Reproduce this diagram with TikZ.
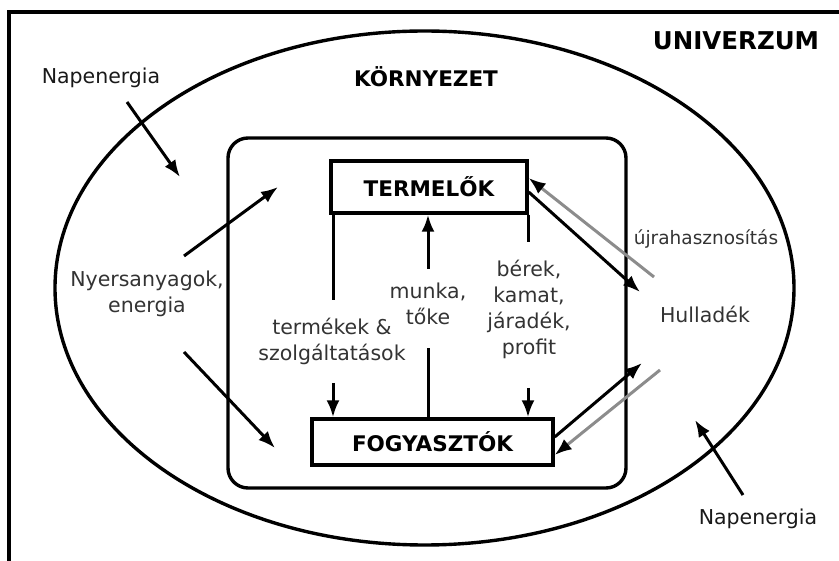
\documentclass[tikz,border=0pt]{standalone}
\usepackage{fontspec}
\setmainfont{DejaVu Sans}
\usetikzlibrary{arrows.meta}
\begin{document}
\begin{tikzpicture}[x=1pt,y=-1pt,
  lbl/.style={text=black!80, font=\fontsize{20.5}{26}\selectfont, align=center, inner sep=0pt},
  ttl/.style={font=\fontsize{21.5}{25}\selectfont\bfseries, inner sep=0pt},
  box/.style={draw, line width=3.4pt, font=\fontsize{21.5}{25}\selectfont\bfseries, inner sep=0pt},
  arr/.style={line width=3pt, -{Latex[length=17pt,width=13pt]}},
  garr/.style={line width=3pt, draw=black!45, -{Latex[length=17pt,width=13pt,color=black]}},
  ln/.style={line width=3pt}]
\useasboundingbox (0,0) rectangle (839,561);
% frame
\draw[line width=4.5pt] (9,561) -- (9,12) -- (839,12);
% environment ellipse
\draw[line width=3.4pt] (424.5,288) ellipse [x radius=369.5, y radius=257];
% economy rounded rectangle
\draw[line width=3.4pt, rounded corners=20pt] (228,138) rectangle (626,488);

% titles
\node[ttl, font=\fontsize{24.5}{28}\selectfont\bfseries, anchor=base] (univ) at (736,50) {UNIVERZUM};
\node[ttl, anchor=base] (korny) at (426,87) {KÖRNYEZET};

% boxes
\node[box, minimum width=196pt, minimum height=52pt] (T) at (429,187) {TERMELŐK};
\node[box, minimum width=241pt, minimum height=46pt] (F) at (432.5,442) {FOGYASZTÓK};

% labels
\node[lbl, text=black!90, anchor=base] (nap1) at (101,84) {Napenergia};
\node[lbl, text=black!90, anchor=base] (nap2) at (758,525) {Napenergia};
\node[lbl] (nyers) at (147,294) {Nyersanyagok,\\energia};
\node[lbl] (termek) at (332,341) {termékek \&\\szolgáltatások};
\node[lbl] (munka) at (428,304) {munka,\\tőke};
\node[lbl] (berek) at (529,309) {bérek,\\kamat,\\járadék,\\profit};
\node[lbl, font=\fontsize{18.5}{24}\selectfont, anchor=base] (ujra) at (706,245) {újrahasznosítás};
\node[lbl, anchor=base] (hull) at (705,323) {Hulladék};

% free ends
\coordinate (n1s) at (127,102);
\coordinate (n1e) at (180,177);
\coordinate (n2s) at (743,495);
\coordinate (n2e) at (695,420);
\coordinate (ny1s) at (184,256);
\coordinate (ny1e) at (278,187);
\coordinate (ny2s) at (184,352);
\coordinate (ny2e) at (275,448);
\coordinate (l1) at (333,300);
\coordinate (l2) at (333,383);
\coordinate (m1) at (428,348);
\coordinate (m2) at (428,269);
\coordinate (r1) at (528,242);
\coordinate (r2) at (528,388);
\coordinate (h1) at (640,292);
\coordinate (h2) at (654,277);
\coordinate (h3) at (642,363);
\coordinate (h4) at (660,370);

% sun energy
\draw[arr] (n1s) -- (n1e);
\draw[arr] (n2s) -- (n2e);
% raw materials
\draw[arr] (ny1s) -- (ny1e);
\draw[arr] (ny2s) -- (ny2e);
% internal flows
\draw[ln] (l1 |- T.south) -- (l1);
\draw[arr] (l2) -- (l2 |- F.north);
\draw[ln] (m1 |- F.north) -- (m1);
\draw[arr] (m2) -- (m2 |- T.south);
\draw[ln] (r1 |- T.south) -- (r1);
\draw[arr] (r2) -- (r2 |- F.north);
% waste and recycling
\draw[arr] ([yshift=-5pt]T.east) -- (h1);
\draw[garr] (h2) -- ([yshift=9pt]T.east);
\draw[arr] ([yshift=5pt]F.east) -- (h3);
\draw[garr] (h4) -- ([yshift=-13pt]F.east);
\end{tikzpicture}
\end{document}
